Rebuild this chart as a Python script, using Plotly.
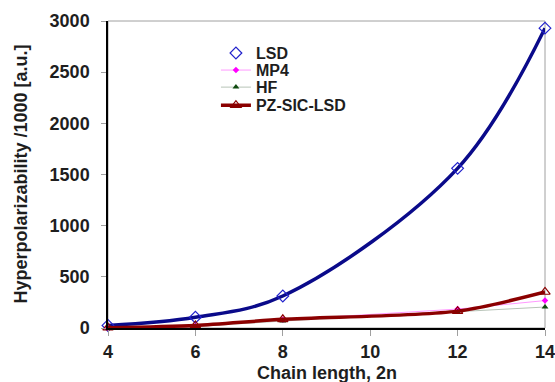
import plotly.graph_objects as go

chain = [4, 6, 8, 12, 14]
lsd = [25, 105, 313, 1560, 2930]
mp4 = [2, 20, 80, 185, 268]
hf = [2, 15, 68, 157, 205]
pz = [3, 25, 85, 165, 352]

x_ticks = [4, 6, 8, 10, 12, 14]
y_ticks = [0, 500, 1000, 1500, 2000, 2500, 3000]

x_title = "Chain length, 2n"
y_title = "Hyperpolarizability /1000 [a.u.]"

font_fam = "Liberation Sans, Arial, sans-serif"
txt = "#1e1e1e"

fig = go.Figure()
# LSD smooth line (no legend)
fig.add_trace(go.Scatter(x=chain, y=lsd, mode="lines", line=dict(color="#0a0a8a", width=3.5, shape="spline", smoothing=1.0),
                         showlegend=False, hoverinfo="skip", cliponaxis=False))
fig.add_trace(go.Scatter(x=chain, y=lsd, mode="markers", name="LSD", legend="legend",
                         marker=dict(symbol="diamond-open", size=9, color="#2222cc", line=dict(width=1.2, color="#2222cc")),
                         cliponaxis=False))
fig.add_trace(go.Scatter(x=chain, y=mp4, mode="lines+markers", name="MP4", legend="legend2",
                         line=dict(color="#ff99ff", width=1),
                         marker=dict(symbol="diamond", size=5, color="#ff00ff"), cliponaxis=False))
fig.add_trace(go.Scatter(x=chain, y=hf, mode="lines+markers", name="HF", legend="legend3",
                         line=dict(color="#b8c4b8", width=1),
                         marker=dict(symbol="triangle-up", size=6, color="#0f4a0f"), cliponaxis=False))
fig.add_trace(go.Scatter(x=chain, y=pz, mode="lines+markers", name="PZ-SIC-LSD", legend="legend4",
                         line=dict(color="#8b0000", width=3.5, shape="spline", smoothing=0.8),
                         marker=dict(symbol="triangle-up-open", size=9, color="#8b0000", line=dict(width=1.2, color="#8b0000")),
                         cliponaxis=False))

leg_font = dict(size=16, family=font_fam, color=txt, weight="bold")
def leg(ypix):
    return dict(x=0.247, y=(327 - ypix) / 306.0, xanchor="left", yanchor="middle",
                bgcolor="rgba(0,0,0,0)", font=leg_font, itemwidth=30)

fig.update_layout(
    width=555, height=382,
    margin=dict(l=108, r=10, t=21, b=54, autoexpand=False),
    paper_bgcolor="white", plot_bgcolor="white",
    font=dict(family=font_fam, size=18, color=txt, weight="bold"),
    showlegend=True,
    legend=leg(53), legend2=leg(70), legend3=leg(87), legend4=leg(105),
    shapes=[dict(type="rect", xref="paper", yref="paper", x0=0, x1=1, y0=0, y1=1,
                 line=dict(color="#a0a0a0", width=1), layer="below")],
    annotations=[
        dict(text=x_title, xref="paper", yref="paper", x=0.5, y=(382 - 373 - 54) / 306.0,
             xanchor="center", yanchor="middle", showarrow=False, font=dict(size=18)),
        dict(text=y_title, xref="paper", yref="paper", x=(20 - 108) / 437.0, y=0.5, textangle=-90,
             xanchor="center", yanchor="middle", showarrow=False, font=dict(size=18)),
    ],
)
fig.update_xaxes(range=[4, 14], tickvals=x_ticks, showgrid=False, zeroline=False, automargin=False,
                 showline=True, linecolor="black", linewidth=1.5,
                 ticks="outside", ticklen=6, tickcolor="#a0a0a0", tickwidth=1,
                 ticklabeloverflow="allow", ticklabelstandoff=1, tickfont=dict(size=18))
fig.update_yaxes(range=[0, 3000], tickvals=y_ticks, showgrid=False, zeroline=False, automargin=False,
                 showline=True, linecolor="black", linewidth=1.5,
                 ticks="outside", ticklen=5, tickcolor="#a0a0a0", tickwidth=1,
                 ticklabeloverflow="allow", ticklabelstandoff=8, tickfont=dict(size=18))

fig.write_html("out.html", config={"displayModeBar": False},
               post_script="document.body.style.margin='0';document.body.style.overflow='hidden';")
